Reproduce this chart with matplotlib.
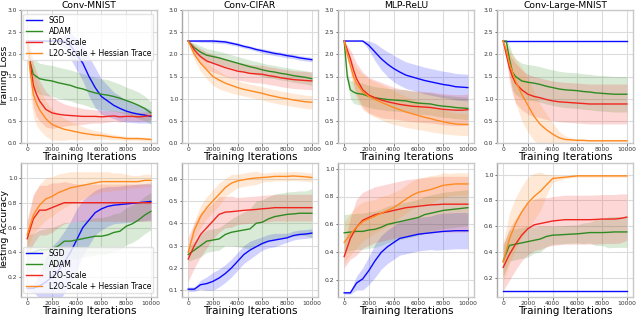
import numpy as np
import matplotlib
matplotlib.use("Agg")
import matplotlib.pyplot as plt

# x grids
it_loss = [0, 250, 500, 750, 1000, 1500, 2000, 2500, 3000, 3500, 4000, 4500,
           5000, 5500, 6000, 6500, 7000, 7500, 8000, 8500, 9000, 9500, 10000]
it_acc = [0, 500, 1000, 1500, 2000, 2500, 3000, 3500, 4000, 4500, 5000,
          5500, 6000, 6500, 7000, 7500, 8000, 8500, 9000, 9500, 10000]

titles = ["Conv-MNIST", "Conv-CIFAR", "MLP-ReLU", "Conv-Large-MNIST"]
methods = ["SGD", "ADAM", "L2O-Scale", "L2O-Scale + Hessian Trace"]
colors = ["#0a0aff", "#2e8b22", "#f0261e", "#ff8a1f"]

# ---- training loss (mean, band half-width) ----
mnist_loss = [
    [2.3, 2.3, 2.3, 2.3, 2.3, 2.3, 2.3, 2.3, 2.29, 2.2, 2.0, 1.8, 1.5, 1.25, 1.05, 0.95, 0.85, 0.78, 0.72, 0.68, 0.65, 0.63, 0.6],
    [2.3, 1.8, 1.55, 1.5, 1.45, 1.42, 1.4, 1.36, 1.33, 1.3, 1.25, 1.22, 1.17, 1.13, 1.1, 1.08, 1.05, 1.01, 0.96, 0.91, 0.85, 0.78, 0.68],
    [2.3, 1.8, 1.3, 1.1, 0.95, 0.76, 0.68, 0.65, 0.63, 0.62, 0.61, 0.6, 0.6, 0.6, 0.59, 0.6, 0.61, 0.59, 0.6, 0.6, 0.59, 0.6, 0.62],
    [2.3, 1.6, 1.1, 0.9, 0.75, 0.55, 0.42, 0.36, 0.31, 0.28, 0.25, 0.22, 0.2, 0.18, 0.17, 0.15, 0.13, 0.12, 0.1, 0.1, 0.1, 0.09, 0.08],
]
mnist_loss_band = [
    [0, 0, 0, 0, 0, 0, 0.02, 0.05, 0.15, 0.3, 0.35, 0.4, 0.45, 0.45, 0.4, 0.35, 0.3, 0.28, 0.25, 0.22, 0.2, 0.18, 0.15],
    [0, 0.3, 0.35, 0.35, 0.35, 0.35, 0.35, 0.35, 0.35, 0.35, 0.35, 0.35, 0.35, 0.35, 0.35, 0.35, 0.33, 0.32, 0.3, 0.3, 0.3, 0.28, 0.25],
    [0, 0.4, 0.5, 0.5, 0.45, 0.4, 0.35, 0.3, 0.25, 0.22, 0.2, 0.18, 0.16, 0.15, 0.14, 0.13, 0.12, 0.12, 0.1, 0.1, 0.1, 0.1, 0.1],
    [0, 0.5, 0.5, 0.5, 0.45, 0.4, 0.35, 0.3, 0.25, 0.2, 0.18, 0.15, 0.12, 0.1, 0.08, 0.07, 0.06, 0.05, 0.05, 0.04, 0.04, 0.04, 0.04],
]
cifar_loss = [
    [2.3, 2.3, 2.3, 2.3, 2.3, 2.3, 2.3, 2.29, 2.28, 2.25, 2.22, 2.18, 2.15, 2.11, 2.08, 2.05, 2.02, 2.0, 1.97, 1.95, 1.92, 1.9, 1.88],
    [2.3, 2.22, 2.15, 2.1, 2.05, 1.98, 1.95, 1.92, 1.88, 1.84, 1.8, 1.76, 1.72, 1.69, 1.65, 1.62, 1.6, 1.57, 1.55, 1.52, 1.5, 1.48, 1.45],
    [2.3, 2.2, 2.1, 2.02, 1.95, 1.85, 1.8, 1.75, 1.7, 1.66, 1.62, 1.6, 1.57, 1.56, 1.55, 1.52, 1.5, 1.47, 1.45, 1.43, 1.42, 1.41, 1.4],
    [2.3, 2.15, 2.0, 1.9, 1.8, 1.65, 1.5, 1.42, 1.35, 1.3, 1.25, 1.21, 1.18, 1.15, 1.12, 1.08, 1.05, 1.02, 1.0, 0.97, 0.95, 0.93, 0.92],
]
cifar_loss_band = [
    [0, 0.01, 0.02, 0.02, 0.03, 0.03, 0.04, 0.04, 0.04, 0.04, 0.04, 0.04, 0.04, 0.04, 0.05, 0.05, 0.05, 0.05, 0.05, 0.05, 0.05, 0.05, 0.05],
    [0, 0.05, 0.1, 0.12, 0.14, 0.15, 0.15, 0.15, 0.15, 0.15, 0.15, 0.15, 0.15, 0.15, 0.15, 0.15, 0.15, 0.15, 0.15, 0.15, 0.15, 0.15, 0.15],
    [0, 0.08, 0.12, 0.15, 0.18, 0.2, 0.2, 0.2, 0.2, 0.2, 0.2, 0.2, 0.2, 0.2, 0.2, 0.2, 0.2, 0.2, 0.2, 0.2, 0.2, 0.2, 0.2],
    [0, 0.08, 0.12, 0.15, 0.18, 0.2, 0.2, 0.2, 0.18, 0.17, 0.16, 0.15, 0.15, 0.15, 0.15, 0.15, 0.15, 0.15, 0.15, 0.15, 0.15, 0.15, 0.15],
]
mlp_loss = [
    [2.3, 2.3, 2.3, 2.3, 2.3, 2.3, 2.2, 2.05, 1.9, 1.78, 1.68, 1.6, 1.53, 1.49, 1.45, 1.41, 1.38, 1.35, 1.32, 1.3, 1.27, 1.26, 1.25],
    [2.3, 1.5, 1.2, 1.15, 1.12, 1.1, 1.05, 1.02, 1.0, 0.98, 0.97, 0.96, 0.95, 0.92, 0.9, 0.89, 0.88, 0.85, 0.83, 0.82, 0.8, 0.79, 0.78],
    [2.3, 2.1, 1.9, 1.65, 1.45, 1.2, 1.08, 1.02, 0.97, 0.93, 0.9, 0.87, 0.85, 0.83, 0.82, 0.81, 0.8, 0.78, 0.76, 0.75, 0.74, 0.74, 0.75],
    [2.3, 2.0, 1.75, 1.5, 1.35, 1.15, 1.05, 0.98, 0.92, 0.86, 0.8, 0.75, 0.7, 0.66, 0.62, 0.58, 0.55, 0.51, 0.48, 0.45, 0.43, 0.42, 0.42],
]
mlp_loss_band = [
    [0, 0, 0, 0, 0, 0.02, 0.1, 0.2, 0.25, 0.28, 0.3, 0.3, 0.3, 0.3, 0.3, 0.3, 0.3, 0.3, 0.3, 0.3, 0.3, 0.3, 0.3],
    [0, 0.1, 0.2, 0.25, 0.25, 0.25, 0.25, 0.25, 0.25, 0.25, 0.25, 0.25, 0.25, 0.25, 0.25, 0.25, 0.25, 0.25, 0.25, 0.25, 0.25, 0.25, 0.25],
    [0, 0.1, 0.2, 0.3, 0.35, 0.4, 0.4, 0.4, 0.4, 0.38, 0.36, 0.35, 0.35, 0.35, 0.35, 0.35, 0.35, 0.35, 0.35, 0.35, 0.35, 0.35, 0.35],
    [0, 0.1, 0.2, 0.3, 0.35, 0.4, 0.4, 0.4, 0.4, 0.4, 0.38, 0.36, 0.35, 0.33, 0.32, 0.3, 0.3, 0.28, 0.27, 0.26, 0.25, 0.25, 0.25],
]
large_loss = [
    [2.3] * 23,
    [2.3, 2.3, 1.9, 1.6, 1.5, 1.4, 1.37, 1.35, 1.32, 1.28, 1.25, 1.22, 1.2, 1.19, 1.18, 1.16, 1.15, 1.13, 1.12, 1.11, 1.1, 1.1, 1.1],
    [2.3, 2.0, 1.7, 1.5, 1.35, 1.2, 1.1, 1.05, 1.02, 0.98, 0.95, 0.93, 0.92, 0.91, 0.9, 0.89, 0.88, 0.88, 0.88, 0.88, 0.88, 0.88, 0.88],
    [2.3, 2.1, 1.8, 1.6, 1.4, 1.1, 0.85, 0.6, 0.42, 0.3, 0.2, 0.12, 0.08, 0.07, 0.06, 0.06, 0.05, 0.05, 0.05, 0.05, 0.05, 0.05, 0.05],
]
large_loss_band = [
    [0] * 23,
    [0, 0.05, 0.3, 0.4, 0.4, 0.4, 0.4, 0.4, 0.4, 0.4, 0.4, 0.4, 0.4, 0.4, 0.4, 0.4, 0.4, 0.4, 0.4, 0.4, 0.4, 0.4, 0.4],
    [0, 0.1, 0.3, 0.4, 0.45, 0.45, 0.45, 0.45, 0.45, 0.45, 0.45, 0.45, 0.45, 0.45, 0.45, 0.45, 0.45, 0.45, 0.45, 0.45, 0.45, 0.45, 0.45],
    [0, 0.1, 0.3, 0.4, 0.5, 0.6, 0.6, 0.55, 0.45, 0.35, 0.25, 0.15, 0.08, 0.05, 0.03, 0.03, 0.02, 0.02, 0.02, 0.02, 0.02, 0.02, 0.02],
]

# ---- testing accuracy ----
mnist_acc = [
    [0.11, 0.11, 0.13, 0.16, 0.2, 0.25, 0.32, 0.4, 0.5, 0.6, 0.66, 0.72, 0.75, 0.77, 0.78, 0.785, 0.79, 0.795, 0.8, 0.805, 0.81],
    [0.39, 0.4, 0.42, 0.42, 0.43, 0.45, 0.49, 0.49, 0.5, 0.51, 0.52, 0.53, 0.53, 0.54, 0.56, 0.57, 0.61, 0.63, 0.66, 0.7, 0.73],
    [0.51, 0.67, 0.74, 0.74, 0.76, 0.78, 0.8, 0.8, 0.8, 0.8, 0.8, 0.8, 0.8, 0.8, 0.8, 0.8, 0.8, 0.8, 0.8, 0.8, 0.8],
    [0.54, 0.7, 0.78, 0.83, 0.85, 0.88, 0.9, 0.92, 0.93, 0.94, 0.95, 0.96, 0.97, 0.97, 0.97, 0.97, 0.97, 0.97, 0.97, 0.98, 0.98],
]
mnist_acc_band = [
    [0.02, 0.03, 0.1, 0.2, 0.25, 0.25, 0.25, 0.25, 0.25, 0.22, 0.2, 0.18, 0.17, 0.16, 0.15, 0.15, 0.15, 0.15, 0.15, 0.15, 0.15],
    [0.15, 0.15, 0.16, 0.17, 0.17, 0.17, 0.15, 0.15, 0.15, 0.15, 0.15, 0.15, 0.15, 0.15, 0.15, 0.15, 0.15, 0.15, 0.15, 0.15, 0.15],
    [0.15, 0.2, 0.2, 0.2, 0.2, 0.18, 0.17, 0.16, 0.15, 0.15, 0.15, 0.15, 0.15, 0.15, 0.15, 0.15, 0.15, 0.15, 0.15, 0.15, 0.15],
    [0.1, 0.15, 0.17, 0.17, 0.16, 0.15, 0.14, 0.13, 0.12, 0.11, 0.1, 0.09, 0.08, 0.08, 0.07, 0.07, 0.06, 0.05, 0.05, 0.05, 0.05],
]
cifar_acc = [
    [0.105, 0.105, 0.125, 0.13, 0.14, 0.155, 0.175, 0.2, 0.23, 0.26, 0.28, 0.295, 0.31, 0.32, 0.325, 0.33, 0.335, 0.345, 0.35, 0.352, 0.356],
    [0.26, 0.28, 0.3, 0.32, 0.325, 0.33, 0.35, 0.36, 0.365, 0.37, 0.375, 0.4, 0.405, 0.42, 0.43, 0.435, 0.44, 0.442, 0.445, 0.445, 0.445],
    [0.24, 0.3, 0.35, 0.38, 0.41, 0.44, 0.45, 0.452, 0.455, 0.458, 0.46, 0.462, 0.465, 0.467, 0.47, 0.47, 0.47, 0.47, 0.47, 0.47, 0.47],
    [0.27, 0.37, 0.43, 0.47, 0.5, 0.53, 0.56, 0.58, 0.59, 0.595, 0.6, 0.603, 0.605, 0.607, 0.61, 0.61, 0.61, 0.612, 0.61, 0.608, 0.605],
]
cifar_acc_band = [
    [0.01, 0.01, 0.02, 0.03, 0.04, 0.04, 0.04, 0.04, 0.04, 0.04, 0.04, 0.035, 0.03, 0.03, 0.03, 0.025, 0.02, 0.02, 0.02, 0.02, 0.02],
    [0.03, 0.04, 0.05, 0.05, 0.05, 0.05, 0.05, 0.06, 0.07, 0.08, 0.09, 0.1, 0.1, 0.1, 0.1, 0.1, 0.1, 0.1, 0.1, 0.1, 0.11],
    [0.1, 0.1, 0.1, 0.09, 0.08, 0.08, 0.07, 0.07, 0.06, 0.06, 0.06, 0.06, 0.06, 0.06, 0.06, 0.06, 0.06, 0.06, 0.06, 0.06, 0.06],
    [0.03, 0.04, 0.05, 0.05, 0.05, 0.05, 0.04, 0.04, 0.03, 0.03, 0.03, 0.03, 0.02, 0.02, 0.02, 0.02, 0.02, 0.02, 0.02, 0.02, 0.02],
]
mlp_acc = [
    [0.11, 0.11, 0.18, 0.21, 0.27, 0.34, 0.4, 0.44, 0.47, 0.5, 0.51, 0.52, 0.53, 0.535, 0.54, 0.545, 0.55, 0.552, 0.555, 0.555, 0.555],
    [0.54, 0.545, 0.55, 0.55, 0.56, 0.565, 0.58, 0.6, 0.61, 0.62, 0.63, 0.64, 0.65, 0.67, 0.68, 0.69, 0.7, 0.705, 0.71, 0.715, 0.72],
    [0.37, 0.5, 0.58, 0.63, 0.65, 0.67, 0.68, 0.69, 0.7, 0.71, 0.72, 0.725, 0.73, 0.735, 0.74, 0.742, 0.745, 0.745, 0.745, 0.745, 0.745],
    [0.47, 0.53, 0.58, 0.62, 0.64, 0.66, 0.68, 0.7, 0.72, 0.75, 0.78, 0.81, 0.83, 0.84, 0.85, 0.865, 0.88, 0.885, 0.89, 0.89, 0.89],
]
mlp_acc_band = [
    [0.01, 0.01, 0.05, 0.08, 0.1, 0.12, 0.12, 0.12, 0.12, 0.12, 0.12, 0.12, 0.12, 0.12, 0.12, 0.13, 0.13, 0.13, 0.13, 0.13, 0.13],
    [0.13, 0.13, 0.13, 0.13, 0.13, 0.13, 0.13, 0.13, 0.13, 0.13, 0.13, 0.13, 0.13, 0.13, 0.13, 0.13, 0.13, 0.13, 0.13, 0.13, 0.13],
    [0.08, 0.15, 0.2, 0.2, 0.2, 0.2, 0.2, 0.2, 0.2, 0.2, 0.2, 0.2, 0.2, 0.2, 0.2, 0.2, 0.2, 0.2, 0.2, 0.2, 0.2],
    [0.15, 0.15, 0.15, 0.14, 0.13, 0.12, 0.12, 0.11, 0.11, 0.1, 0.1, 0.1, 0.1, 0.1, 0.1, 0.09, 0.09, 0.08, 0.08, 0.08, 0.08],
]
large_acc = [
    [0.1] * 21,
    [0.33, 0.45, 0.46, 0.47, 0.48, 0.49, 0.5, 0.52, 0.53, 0.532, 0.535, 0.538, 0.54, 0.545, 0.55, 0.55, 0.55, 0.552, 0.555, 0.555, 0.555],
    [0.28, 0.38, 0.46, 0.53, 0.58, 0.61, 0.62, 0.63, 0.64, 0.645, 0.65, 0.65, 0.65, 0.65, 0.65, 0.652, 0.655, 0.655, 0.655, 0.66, 0.67],
    [0.32, 0.5, 0.62, 0.71, 0.78, 0.83, 0.87, 0.92, 0.97, 0.975, 0.98, 0.985, 0.99, 0.99, 0.99, 0.99, 0.99, 0.99, 0.99, 0.99, 0.99],
]
large_acc_band = [
    [0] * 21,
    [0.12, 0.12, 0.12, 0.12, 0.12, 0.1, 0.1, 0.08, 0.07, 0.07, 0.07, 0.07, 0.07, 0.08, 0.08, 0.1, 0.1, 0.12, 0.12, 0.12, 0.12],
    [0.18, 0.2, 0.2, 0.2, 0.2, 0.2, 0.2, 0.19, 0.19, 0.19, 0.19, 0.19, 0.19, 0.19, 0.19, 0.19, 0.19, 0.19, 0.19, 0.19, 0.18],
    [0.15, 0.2, 0.2, 0.2, 0.2, 0.18, 0.15, 0.08, 0.03, 0.02, 0.01, 0.01, 0.01, 0.01, 0.01, 0.01, 0.01, 0.01, 0.01, 0.01, 0.01],
]

loss_data = [(mnist_loss, mnist_loss_band), (cifar_loss, cifar_loss_band),
             (mlp_loss, mlp_loss_band), (large_loss, large_loss_band)]
acc_data = [(mnist_acc, mnist_acc_band), (cifar_acc, cifar_acc_band),
            (mlp_acc, mlp_acc_band), (large_acc, large_acc_band)]
acc_ylims = [(0.04, 1.12), (0.07, 0.67), (0.08, 1.04), (0.05, 1.09)]
acc_ticks = [[0.2, 0.4, 0.6, 0.8, 1.0], [0.1, 0.2, 0.3, 0.4, 0.5, 0.6],
             [0.2, 0.4, 0.6, 0.8, 1.0], [0.2, 0.4, 0.6, 0.8, 1.0]]

fig = plt.figure(figsize=(6.4, 3.16), dpi=100)
W, H = 640.0, 316.0
lefts = [21, 182, 338, 497]
width = 136
rows = [(10, 143), (163, 297)]


def style(ax):
    ax.set_facecolor("white")
    ax.grid(True, color="#dcdcdc", lw=0.8)
    ax.set_axisbelow(True)
    for s in ax.spines.values():
        s.set_color("#c8c8c8")
        s.set_linewidth(1.0)
    ax.spines["left"].set_color("#a8a8a8")
    ax.tick_params(labelsize=4.3, length=1.8, width=0.5, pad=0.8, colors="#333333")
    ax.set_xlim(-500, 10500)
    ax.set_xticks([0, 2000, 4000, 6000, 8000, 10000])


axes = []
for r, (top, bot) in enumerate(rows):
    for c in range(4):
        ax = fig.add_axes([lefts[c] / W, 1 - bot / H, width / W, (bot - top) / H])
        style(ax)
        axes.append(ax)
        if r == 0:
            means, bands = loss_data[c]
            x = np.array(it_loss)
        else:
            means, bands = acc_data[c]
            x = np.array(it_acc)
        for k in range(4):
            m = np.array(means[k])
            b = np.array(bands[k])
            ax.fill_between(x, m - b, m + b, color=colors[k], alpha=0.18, lw=0)
            ax.plot(x, m, color=colors[k], lw=1.0, label=methods[k])
        ax.set_xlabel("Training Iterations", fontsize=7.5, labelpad=0.5)
        if r == 0:
            ax.set_ylim(0, 3.0)
            ax.set_yticks([0.0, 0.5, 1.0, 1.5, 2.0, 2.5, 3.0])
            ax.set_title(titles[c], fontsize=6.6, pad=0.8)
        else:
            ax.set_ylim(*acc_ylims[c])
            ax.set_yticks(acc_ticks[c])

axes[0].set_ylabel("Training Loss", fontsize=6.8)
axes[4].set_ylabel("Testing Accuracy", fontsize=6.8)
axes[0].yaxis.set_label_coords(-0.09, 0.5)
axes[4].yaxis.set_label_coords(-0.09, 0.5)
axes[0].legend(loc="upper right", fontsize=5.5, frameon=True, framealpha=0.8,
               edgecolor="#dddddd", handlelength=2.2, borderpad=0.3, labelspacing=0.25)
axes[4].legend(loc="lower right", fontsize=5.5, frameon=True, framealpha=0.8,
               edgecolor="#dddddd", handlelength=2.2, borderpad=0.3, labelspacing=0.25)

fig.savefig("out.png", dpi=100, facecolor="white")
